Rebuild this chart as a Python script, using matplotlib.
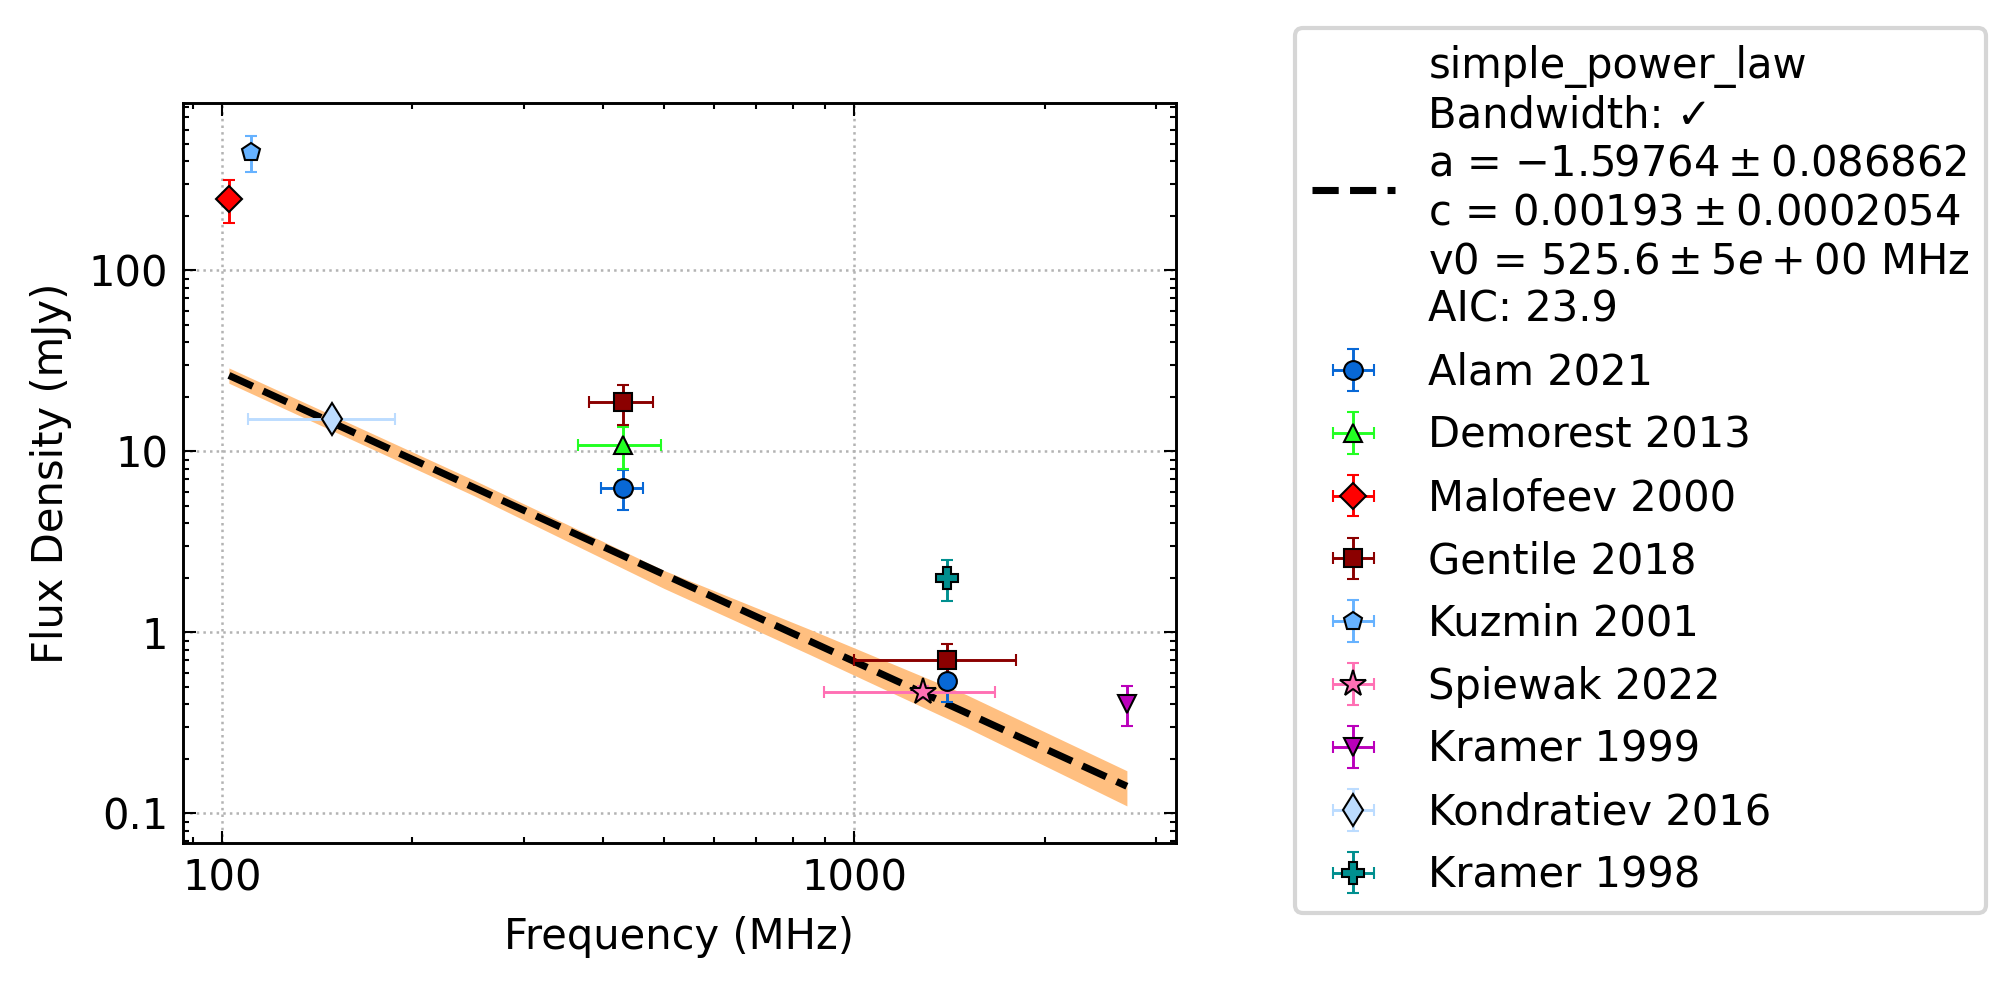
import numpy as np
import matplotlib
matplotlib.use("Agg")
import matplotlib.pyplot as plt
from matplotlib.ticker import FuncFormatter, NullFormatter

# fit parameters (simple power law)
fit_a = -1.59764
fit_c = 0.00193   # Jy
fit_v0 = 525.6    # MHz
fit_freq = [102.5, 2700]

# uncertainty band (mJy)
band_freq = [102.5, 250, 500, 850, 1500, 2700]
band_lo = [23.8, 5.70, 1.75, 0.755, 0.300, 0.110]
band_hi = [28.9, 6.95, 2.20, 1.040, 0.455, 0.172]

# measurements: freq (MHz), freq error, flux (mJy), flux error
alam_freq = [430, 1400]
alam_ferr = [33, 0]
alam_flux = [6.3, 0.54]
alam_err = [1.55, 0.13]

demorest_freq = [430]
demorest_ferr = [64]
demorest_flux = [10.8]
demorest_err = [2.8]

malofeev_freq = [102.5]
malofeev_ferr = [0]
malofeev_flux = [249]
malofeev_err = [66]

gentile_freq = [430, 1400]
gentile_ferr = [50, 400]
gentile_flux = [18.7, 0.70]
gentile_err = [4.65, 0.16]

kuzmin_freq = [111]
kuzmin_ferr = [0]
kuzmin_flux = [450]
kuzmin_err = [102]

spiewak_freq = [1284]
spiewak_ferr = [388]
spiewak_flux = [0.466]
spiewak_err = [0.04]

kramer99_freq = [2700]
kramer99_ferr = [0]
kramer99_flux = [0.403]
kramer99_err = [0.10]

kondratiev_freq = [149]
kondratiev_ferr = [39]
kondratiev_flux = [15.1]
kondratiev_err = [1.5]

kramer98_freq = [1400]
kramer98_ferr = [0]
kramer98_flux = [2.0]
kramer98_err = [0.5]

fit_label = ("simple_power_law\nBandwidth: \u2713\n"
             "a = $-1.59764 \\pm 0.086862$\n"
             "c = $0.00193 \\pm 0.0002054$\n"
             "v0 = $525.6 \\pm 5e+00$ MHz\n"
             "AIC: 23.9")

plt.rcParams['font.family'] = ['DejaVu Sans']
plt.rcParams['font.size'] = 10
plt.rcParams['mathtext.fontset'] = 'dejavusans'

fig = plt.figure(figsize=(6.72, 3.29), dpi=300)
ax = fig.add_axes([0.0906, 0.1462, 0.4927, 0.7491])

# fit line + band
ff = np.array(fit_freq)
fit_flux = fit_c * 1000 * (ff / fit_v0) ** fit_a
ax.fill_between(band_freq, band_lo, band_hi, color='#ffbf80', lw=0, zorder=1)
ax.plot(ff, fit_flux, 'k--', lw=1.7, label=fit_label, zorder=2)

#   each dataset as errorbar
sets = [
    (alam_freq, alam_flux, alam_ferr, alam_err, 'o', '#0868d6', 'Alam 2021'),
    (demorest_freq, demorest_flux, demorest_ferr, demorest_err, '^', '#22ff22', 'Demorest 2013'),
    (malofeev_freq, malofeev_flux, malofeev_ferr, malofeev_err, 'D', '#ff0000', 'Malofeev 2000'),
    (gentile_freq, gentile_flux, gentile_ferr, gentile_err, 's', '#8b0000', 'Gentile 2018'),
    (kuzmin_freq, kuzmin_flux, kuzmin_ferr, kuzmin_err, 'p', '#66b2ff', 'Kuzmin 2001'),
    (spiewak_freq, spiewak_flux, spiewak_ferr, spiewak_err, '*', '#ff70b4', 'Spiewak 2022'),
    (kramer99_freq, kramer99_flux, kramer99_ferr, kramer99_err, 'v', '#bb00bb', 'Kramer 1999'),
    (kondratiev_freq, kondratiev_flux, kondratiev_ferr, kondratiev_err, 'd', '#bcdcff', 'Kondratiev 2016'),
    (kramer98_freq, kramer98_flux, kramer98_ferr, kramer98_err, 'P', '#008f8f', 'Kramer 1998'),
]
sizes = {'*': 6.5, 'd': 5.5, 'P': 5.2}
for fr, fl, fe, e, m, col, lab in sets:
    ms = sizes.get(m, 4.5)
    ax.errorbar(fr, fl, xerr=fe, yerr=e, fmt=m, color=col, ecolor=col,
                mec='k', mew=0.5, ms=ms, elinewidth=0.7, capsize=1.4,
                capthick=0.7, label=lab, zorder=3)

ax.set_xscale('log')
ax.set_yscale('log')
ax.set_xlim(86.6, 3228)
ax.set_ylim(0.0689, 837)

fmt = FuncFormatter(lambda v, p: '%g' % v)
ax.xaxis.set_major_formatter(fmt)
ax.yaxis.set_major_formatter(fmt)
ax.xaxis.set_minor_formatter(NullFormatter())
ax.yaxis.set_minor_formatter(NullFormatter())

ax.tick_params(which='both', direction='in', top=True, right=True)
ax.tick_params(which='major', length=3, width=0.5)
ax.tick_params(which='minor', length=1.5, width=0.5)
for s in ax.spines.values():
    s.set_linewidth(0.7)

ax.grid(True, which='major', ls=':', color='0.7', lw=0.6)
ax.set_axisbelow(True)

ax.set_xlabel('Frequency (MHz)')
ax.set_ylabel('Flux Density (mJy)')

ax.legend(loc='upper left', bbox_to_anchor=(0.6424, 0.9716),
          bbox_transform=fig.transFigure, borderaxespad=0,
          labelspacing=0.5)

plt.savefig('out.png', dpi=300)
